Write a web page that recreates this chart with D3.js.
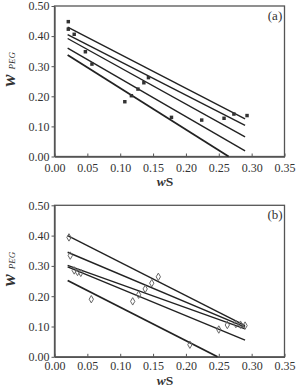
<!DOCTYPE html>
<html>
<head>
<meta charset="utf-8">
<script src="https://cdn.jsdelivr.net/npm/d3@7"></script>
<style>
  body { margin: 0; background: #fff; }
  svg { display: block; font-family: "Liberation Serif", "DejaVu Serif", serif; }
</style>
</head>
<body>
<svg id="my-svg"></svg>
<script>
// Tick labels (shared by both panels)
var xTicks = [0, 0.05, 0.10, 0.15, 0.20, 0.25, 0.30, 0.35];
var yTicks = [0, 0.10, 0.20, 0.30, 0.40, 0.50];

// Panel (a) - measured points, wS / wPEG
var ptsAx = [0.021, 0.021, 0.030, 0.047, 0.057, 0.107, 0.117, 0.127, 0.136, 0.143, 0.178, 0.224, 0.258, 0.273, 0.293];
var ptsAy = [0.448, 0.423, 0.406, 0.348, 0.307, 0.182, 0.202, 0.224, 0.245, 0.262, 0.130, 0.121, 0.127, 0.141, 0.136];

// Panel (a) - fitted lines: start x, start y, end x, end y
var fitAx1 = [0.02, 0.02, 0.02, 0.02, 0.02];
var fitAy1 = [0.430, 0.405, 0.392, 0.360, 0.337];
var fitAx2 = [0.29, 0.29, 0.29, 0.29, 0.265];
var fitAy2 = [0.125, 0.103, 0.065, 0.019, 0.0];

// Panel (b) - measured points
var ptsBx = [0.022, 0.024, 0.030, 0.035, 0.040, 0.056, 0.119, 0.128, 0.138, 0.148, 0.158, 0.206, 0.250, 0.263, 0.276, 0.283, 0.290];
var ptsBy = [0.394, 0.334, 0.285, 0.280, 0.277, 0.190, 0.183, 0.205, 0.224, 0.243, 0.264, 0.040, 0.090, 0.105, 0.108, 0.106, 0.103];

// Panel (b) - fitted lines
var fitBx1 = [0.02, 0.02, 0.02, 0.02, 0.02];
var fitBy1 = [0.400, 0.345, 0.302, 0.297, 0.252];
var fitBx2 = [0.29, 0.29, 0.29, 0.29, 0.248];
var fitBy2 = [0.103, 0.098, 0.092, 0.055, 0.0];

var svg = d3.select('#my-svg')
    .attr('width', 307)
    .attr('height', 388);

function drawPanel(opt)
{
  var x = d3.scaleLinear().domain([0, 0.35]).range([54.5, 284.5]);
  var y = d3.scaleLinear().domain([0, 0.5]).range([opt.bottom, opt.top]);

  var g = svg.append('g');

  // frame
  g.append('rect')
      .attr('x', x(0))
      .attr('y', y(0.5))
      .attr('width', x(0.35) - x(0))
      .attr('height', y(0) - y(0.5))
      .attr('fill', 'none')
      .attr('stroke', '#555')
      .attr('stroke-width', 1.3);

  // axes
  var xAxis = g.append('g')
      .attr('transform', 'translate(0,' + y(0) + ')')
      .call(d3.axisBottom(x).tickValues(xTicks).tickSizeInner(-3).tickSizeOuter(0)
        .tickFormat(d3.format('.2f')));
  xAxis.selectAll('text').attr('dy', null).attr('y', opt.tickGap);

  var yAxis = g.append('g')
      .attr('transform', 'translate(' + x(0) + ',0)')
      .call(d3.axisLeft(y).tickValues(yTicks).tickSizeInner(3).tickSizeOuter(0)
        .tickFormat(d3.format('.2f')));
  yAxis.selectAll('text').attr('x', -5);

  g.selectAll('.domain').attr('stroke', '#555').attr('stroke-width', 1.3);
  g.selectAll('.tick line').attr('stroke', '#555');
  g.selectAll('.tick text')
      .attr('font-family', '"Liberation Serif", serif')
      .attr('font-size', 12)
      .attr('fill', '#333');

  // fitted lines
  g.selectAll('line.fit').data(opt.fx1)
    .enter()
    .append('line')
      .attr('class', 'fit')
      .attr('x1', function (d) { return x(d); })
      .attr('y1', function (d, i) { return y(opt.fy1[i]); })
      .attr('x2', function (d, i) { return x(opt.fx2[i]); })
      .attr('y2', function (d, i) { return y(opt.fy2[i]); })
      .attr('stroke', '#222')
      .attr('stroke-width', function (d, i) { return i === opt.fx1.length - 1 ? 1.8 : 1.4; });

  // points
  var sym = opt.marker === 'square' ? d3.symbolSquare : d3.symbolDiamond;
  g.selectAll('path.pt').data(opt.px)
    .enter()
    .append('path')
      .attr('class', 'pt')
      .attr('d', d3.symbol().type(sym).size(opt.marker === 'square' ? 12 : 16))
      .attr('transform', function (d, i) { return 'translate(' + x(d) + ',' + y(opt.py[i]) + ')'; })
      .attr('fill', opt.marker === 'square' ? '#333' : 'none')
      .attr('stroke', opt.marker === 'square' ? 'none' : '#666')
      .attr('stroke-width', 1);

  // panel tag
  g.append('text')
      .attr('x', 275)
      .attr('y', opt.top + 14)
      .attr('text-anchor', 'middle')
      .attr('font-size', 13)
      .attr('fill', '#333')
      .text(opt.tag);

  // x title
  var xt = g.append('text')
      .attr('x', 165)
      .attr('y', opt.bottom + opt.titleGap)
      .attr('text-anchor', 'middle')
      .attr('font-size', 13.5)
      .attr('font-weight', 'bold')
      .attr('fill', '#333');
  xt.append('tspan').attr('font-style', 'italic').text('w');
  xt.append('tspan').text('S');

  // y title
  var yt = g.append('text')
      .attr('transform', 'translate(15,' + (y(0.25) - 12) + ') rotate(-90)')
      .attr('text-anchor', 'middle')
      .attr('fill', '#333');
  yt.append('tspan')
      .attr('font-size', 18)
      .attr('font-weight', 'bold')
      .attr('font-style', 'italic')
      .text('w');
  yt.append('tspan')
      .attr('font-size', 9)
      .attr('font-style', 'italic')
      .attr('dx', 5)
      .text('PEG');
}

drawPanel({
  top: 6, bottom: 156.5, tag: '(a)', marker: 'square', tickGap: 15, titleGap: 29,
  px: ptsAx, py: ptsAy,
  fx1: fitAx1, fy1: fitAy1, fx2: fitAx2, fy2: fitAy2
});

drawPanel({
  top: 205.3, bottom: 356.8, tag: '(b)', marker: 'diamond', tickGap: 13, titleGap: 28,
  px: ptsBx, py: ptsBy,
  fx1: fitBx1, fy1: fitBy1, fx2: fitBx2, fy2: fitBy2
});
</script>
</body>
</html>
